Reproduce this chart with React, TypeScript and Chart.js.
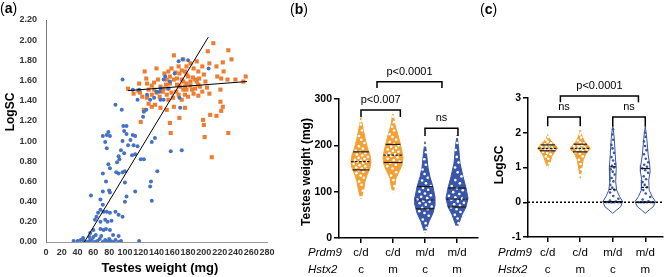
import React, { useEffect, useRef } from 'react';
import { Chart, registerables } from 'chart.js';
Chart.register(...registerables);

// ---------------- Panel (a) data: [testes weight (mg), LogSC] ----------------
const bluePoints: [number, number][] = [
  [35, 0.01], [40, 0.01], [44, 0.02], [48, 0.01], [52, 0.0], [55, 0.01], [58, 0.02], [62, 0.0], [65, 0.01], [68, 0.03],
  [72, 0.0], [75, 0.02], [78, 0.0], [82, 0.01], [85, 0.0], [88, 0.02], [92, 0.0], [95, 0.01], [118, 0.01], [60, 0.05],
  [70, 0.06], [80, 0.03], [57, 0.46], [97, 1.61], [88, 1.36], [96, 1.31], [110, 1.51], [116, 1.41], [118, 1.51], [123, 1.24],
  [124, 1.29], [127, 1.31], [128, 1.46], [132, 1.41], [137, 1.43], [140, 1.49], [145, 1.41], [149, 1.41], [145, 1.52], [149, 1.61],
  [168, 1.79], [173, 1.81], [180, 1.8], [206, 1.72], [170, 1.33], [169, 1.43], [158, 0.9], [172, 0.91], [141, 0.7], [134, 0.99],
  [138, 1.03], [133, 0.6], [132, 0.55], [134, 0.41], [113, 0.5], [120, 0.82], [124, 0.82], [116, 0.95], [110, 1.06], [113, 1.05],
  [102, 1.15], [98, 1.15], [99, 1.1], [102, 1.07], [97, 1.0], [107, 1.01], [104, 0.96], [111, 0.96], [109, 0.86], [113, 0.87],
  [99, 0.88], [95, 0.91], [92, 0.85], [90, 0.79], [93, 0.82], [79, 0.77], [81, 0.73], [89, 0.69], [92, 0.68], [97, 0.69],
  [100, 0.7], [72, 1.05], [77, 1.06], [79, 1.09], [81, 1.05], [75, 0.99], [77, 0.93], [72, 0.68], [72, 0.5], [80, 0.51],
  [81, 0.49], [76, 0.6], [100, 0.59], [102, 0.45], [100, 0.4], [69, 0.42], [72, 0.37], [66, 0.29], [69, 0.32], [73, 0.3],
  [77, 0.3], [81, 0.29], [88, 0.3], [64, 0.25], [62, 0.22], [69, 0.2], [75, 0.22], [78, 0.2], [83, 0.21], [92, 0.27],
  [97, 0.25], [60, 0.12], [69, 0.13], [73, 0.12], [76, 0.13], [81, 0.12], [56, 0.09], [63, 0.07], [85, 0.07], [92, 0.06],
  [47, 0.04], [55, 0.05], [151, 1.64], [157, 1.59], [163, 1.67], [155, 1.52], [144, 1.49]
];
const orangePoints: [number, number][] = [
  [104, 1.52], [118, 1.57], [125, 1.69], [130, 1.51], [119, 1.48], [122, 1.44], [128, 1.43], [134, 1.46], [137, 1.51], [124, 1.31],
  [120, 1.19], [140, 1.72], [145, 1.54], [150, 1.67], [152, 1.56], [155, 1.52], [157, 1.57], [159, 1.48], [162, 1.85], [164, 1.68],
  [166, 1.62], [168, 1.74], [170, 1.54], [172, 1.61], [174, 1.81], [176, 1.69], [178, 1.57], [180, 1.64], [183, 1.77], [185, 1.51],
  [187, 1.72], [189, 1.61], [191, 1.79], [193, 1.69], [195, 1.54], [198, 1.74], [200, 1.66], [202, 1.59], [205, 1.89], [207, 1.77],
  [212, 1.97], [216, 1.74], [217, 1.64], [221, 1.51], [224, 1.78], [225, 1.69], [230, 1.61], [231, 1.9], [235, 1.81], [240, 1.61],
  [250, 1.59], [253, 1.64], [157, 1.18], [158, 1.08], [153, 1.31], [162, 1.34], [169, 1.23], [176, 1.33], [172, 1.41], [180, 1.44],
  [193, 1.45], [199, 1.21], [200, 1.16], [201, 1.04], [208, 1.26], [216, 1.25], [221, 1.39], [224, 1.34], [231, 1.08], [210, 0.84],
  [207, 1.47], [140, 1.48], [144, 1.44], [148, 1.49], [153, 1.46], [155, 1.41], [161, 1.43], [165, 1.49], [168, 1.46], [174, 1.51],
  [176, 1.46], [178, 1.51], [183, 1.55], [187, 1.47], [189, 1.52], [193, 1.56], [198, 1.49], [204, 1.53], [153, 1.61], [157, 1.64],
  [162, 1.61], [166, 1.56], [169, 1.67], [174, 1.59], [176, 1.54], [178, 1.66], [183, 1.59], [186, 1.63], [191, 1.59], [194, 1.62],
  [178, 1.74], [172, 1.7], [159, 1.72], [155, 1.69], [149, 1.52], [128, 1.57], [134, 1.55], [137, 1.58], [142, 1.61], [127, 1.62],
  [117, 1.5], [111, 1.47], [130, 1.37], [134, 1.34], [138, 1.36], [145, 1.33], [222, 1.62], [222, 1.3]
];
const fitAllX = [48.6, 205.6];
const fitAllY = [0, 2.03];
const fitOrangeX = [103.6, 254.6];
const fitOrangeY = [1.5, 1.59];

// ---------------- Panels (b) and (c) data ----------------
const prdm9 = ['c/d', 'c/d', 'm/d', 'm/d'];
const hstx2 = ['c', 'm', 'c', 'm'];

// violin outlines: value levels and relative density (0..1) at each level
const weightLevels = [
  [84, 95, 108, 121, 136, 151, 164, 179, 194, 216, 237, 250, 260],
  [97, 114, 129, 143, 158, 173, 186, 205, 222, 244, 272],
  [11, 22, 35, 54, 71, 88, 110, 132, 153, 183, 208],
  [22, 32, 50, 67, 86, 108, 132, 162, 197, 222]
];
const weightDensity = [
  [0, 0.14, 0.27, 0.36, 0.55, 0.82, 0.91, 0.82, 0.59, 0.36, 0.18, 0.09, 0],
  [0, 0.18, 0.27, 0.55, 0.82, 0.91, 0.82, 0.64, 0.45, 0.18, 0],
  [0, 0.18, 0.36, 0.73, 0.91, 0.91, 0.73, 0.45, 0.27, 0.14, 0],
  [0, 0.18, 0.45, 0.82, 1, 0.82, 0.55, 0.27, 0.14, 0]
];
const weightQuartiles = [
  [147, 165, 186],
  [163, 179, 202],
  [63, 82, 111],
  [67, 84, 108]
];
const weightValues = [
  [88, 102, 115, 122, 130, 135, 140, 143, 146, 148, 150, 152, 155, 157, 160, 162, 164, 165, 167, 169, 171, 173, 175, 178, 180, 183, 186, 189, 193, 198, 205, 212, 220, 232, 245, 252],
  [100, 112, 125, 135, 142, 150, 155, 158, 162, 165, 168, 171, 174, 177, 179, 181, 183, 186, 188, 191, 194, 197, 200, 203, 207, 212, 218, 224, 232, 240, 250, 262, 270],
  [14, 22, 32, 40, 48, 54, 58, 62, 65, 68, 72, 75, 78, 80, 83, 86, 89, 92, 96, 100, 104, 108, 112, 118, 124, 130, 138, 148, 158, 170, 185, 200],
  [24, 32, 42, 50, 56, 62, 66, 70, 73, 76, 79, 82, 85, 88, 91, 95, 99, 103, 107, 112, 118, 125, 133, 142, 152, 163, 175, 190, 205, 218]
];

const logLevels = [
  [0.98, 1.17, 1.31, 1.45, 1.55, 1.63, 1.74, 1.84, 1.95],
  [0.69, 0.98, 1.22, 1.41, 1.53, 1.6, 1.74, 1.89, 2.08],
  [-0.32, -0.22, -0.13, 0.02, 0.16, 0.35, 0.59, 0.98, 1.36, 1.84, 2.22],
  [-0.32, -0.22, -0.13, 0.02, 0.16, 0.35, 0.64, 0.88, 1.07, 1.36, 1.84, 2.19]
];
const logDensity = [
  [0, 0.23, 0.36, 0.64, 0.91, 0.73, 0.36, 0.14, 0],
  [0, 0.14, 0.27, 0.55, 0.91, 0.82, 0.41, 0.18, 0],
  [0, 0.36, 0.73, 0.91, 0.64, 0.36, 0.27, 0.32, 0.23, 0.14, 0],
  [0, 0.36, 0.73, 0.95, 0.64, 0.36, 0.32, 0.45, 0.41, 0.27, 0.14, 0]
];
const logQuartiles = [
  [1.48, 1.55, 1.65],
  [1.45, 1.55, 1.67],
  [0.02, 0.37, 1.02],
  [0.0, 0.43, 0.97]
];
const logValues = [
  [1.02, 1.12, 1.25, 1.32, 1.38, 1.42, 1.45, 1.48, 1.5, 1.52, 1.54, 1.56, 1.58, 1.6, 1.62, 1.64, 1.67, 1.7, 1.74, 1.8, 1.88],
  [0.78, 0.95, 1.1, 1.22, 1.32, 1.4, 1.44, 1.47, 1.5, 1.52, 1.54, 1.56, 1.58, 1.6, 1.62, 1.64, 1.66, 1.69, 1.72, 1.78, 1.86, 1.95, 2.0],
  [0, 0, 0, 0, 0, 0, 0, 0.02, 0.05, 0.1, 0.18, 0.28, 0.35, 0.42, 0.5, 0.6, 0.7, 0.8, 0.88, 0.95, 1.0, 1.05, 1.1, 1.2, 1.3, 1.42, 1.55, 1.65, 1.8, 1.95, 2.1],
  [0, 0, 0, 0, 0, 0, 0, 0.03, 0.08, 0.15, 0.25, 0.35, 0.43, 0.5, 0.58, 0.66, 0.75, 0.85, 0.92, 0.98, 1.02, 1.08, 1.15, 1.25, 1.38, 1.5, 1.62, 1.75, 1.88, 2.0]
];

// comparison brackets: [x from, x to, bar value, drop value, label]
const weightBrackets: [number, number, number, number, string][] = [
  [1.5, 3.53, 337, 324, 'p<0.0001'],
  [1.0, 2.23, 276, 261, 'p<0.007'],
  [3.0, 4.03, 237, 220, 'ns']
];
const logBrackets: [number, number, number, number, string][] = [
  [1.39, 3.79, 3.06, 2.88, 'p<0.0001'],
  [1.0, 2.0, 2.45, 2.19, 'ns'],
  [3.0, 4.0, 2.45, 2.19, 'ns']
];

// ---------------- styles ----------------
const W = 667;
const H = 277;
const SANS = "'Liberation Sans', Arial, sans-serif";
const NARROW = "'Liberation Sans Narrow', 'Liberation Sans', Arial, sans-serif";
const ORANGE = '#F3A034';
const BLUE = '#3A56A8';
const XL_BLUE = '#4472C4';
const XL_ORANGE = '#ED7D31';

function interp(xs: number[], ys: number[], v: number) {
  if (v <= xs[0]) return ys[0];
  for (let i = 1; i < xs.length; i++) {
    if (v <= xs[i]) {
      const t = (v - xs[i - 1]) / (xs[i] - xs[i - 1]);
      return ys[i - 1] + t * (ys[i] - ys[i - 1]);
    }
  }
  return ys[ys.length - 1];
}
const jit = (i: number) => ((i * 0.618034 + 0.37) % 1) * 2 - 1;

function drawLetter(ctx: CanvasRenderingContext2D, letter: string, x: number, y: number) {
  ctx.textAlign = 'left';
  ctx.textBaseline = 'alphabetic';
  ctx.fillStyle = '#000';
  ctx.font = `14px ${SANS}`;
  ctx.fillText('(', x, y);
  let cx = x + ctx.measureText('(').width;
  ctx.font = `bold 14px ${SANS}`;
  ctx.fillText(letter, cx, y);
  cx += ctx.measureText(letter).width;
  ctx.font = `14px ${SANS}`;
  ctx.fillText(')', cx, y);
}
function drawRotated(ctx: CanvasRenderingContext2D, s: string, x: number, y: number, font: string) {
  ctx.save();
  ctx.translate(x, y);
  ctx.rotate(-Math.PI / 2);
  ctx.font = font;
  ctx.textAlign = 'center';
  ctx.textBaseline = 'middle';
  ctx.fillStyle = '#000';
  ctx.fillText(s, 0, 0);
  ctx.restore();
}

function violinDatasets(levelsArr: number[][], densArr: number[][], quartArr: number[][], valsArr: number[][],
  half: number, filled: boolean[], edge: string[], dotColor: string[], qColor: string) {
  const ds: any[] = [];
  levelsArr.forEach((levels, k) => {
    const pos = k + 1;
    const dens = densArr[k];
    const right = levels.map((y, i) => ({ x: pos + dens[i] * half, y }));
    const left = levels.map((y, i) => ({ x: pos - dens[i] * half, y })).reverse();
    const poly = [...right, ...left, right[0]];
    ds.push({
      data: poly, showLine: true, fill: filled[k] ? 'shape' : false,
      backgroundColor: filled[k] ? edge[k] : 'rgba(0,0,0,0)', borderColor: edge[k], borderWidth: 1,
      pointRadius: 0, tension: 0, order: 5
    });
    const w = (v: number) => interp(levels, dens, v) * half;
    ds.push({
      data: valsArr[k].map((v, i) => ({ x: pos + w(v) * 0.8 * jit(i), y: v })),
      showLine: false, pointRadius: 1.3, pointBackgroundColor: dotColor[k], pointBorderWidth: 0, order: 4
    });
    quartArr[k].forEach((q, j) => {
      ds.push({
        data: [{ x: pos - w(q), y: q }, { x: pos + w(q), y: q }], showLine: true,
        borderColor: qColor, borderWidth: 1.2, borderDash: j === 1 ? [2.5, 1.5] : [], pointRadius: 0, fill: false, order: 3
      });
    });
  });
  return ds;
}

function bracketDraw(ctx: CanvasRenderingContext2D, x: any, y: any, list: [number, number, number, number, string][]) {
  ctx.strokeStyle = '#000';
  ctx.lineWidth = 1.5;
  ctx.fillStyle = '#000';
  ctx.font = `11px ${SANS}`;
  ctx.textAlign = 'center';
  ctx.textBaseline = 'middle';
  list.forEach(([a, b, v, d, label]) => {
    const x1 = x.getPixelForValue(a), x2 = x.getPixelForValue(b);
    const yb = y.getPixelForValue(v), yd = y.getPixelForValue(d);
    ctx.beginPath();
    ctx.moveTo(x1, yd); ctx.lineTo(x1, yb); ctx.lineTo(x2, yb); ctx.lineTo(x2, yd);
    ctx.stroke();
    ctx.fillText(label, (x1 + x2) / 2, yb - 10);
  });
}

function categoryDraw(ctx: CanvasRenderingContext2D, x: any, rowLeft: number) {
  ctx.fillStyle = '#000';
  ctx.textBaseline = 'middle';
  ctx.font = `italic 11.5px ${SANS}`;
  ctx.textAlign = 'left';
  ctx.fillText('Prdm9', rowLeft, 253);
  ctx.fillText('Hstx2', rowLeft, 270);
  ctx.font = `11.5px ${SANS}`;
  ctx.textAlign = 'center';
  prdm9.forEach((s, i) => {
    const px = x.getPixelForValue(i + 1);
    ctx.fillText(s, px, 253);
    ctx.fillText(hstx2[i], px, 270);
  });
}

function configA(): any {
  return {
    type: 'scatter',
    data: {
      datasets: [
        { data: fitAllX.map((v, i) => ({ x: v, y: fitAllY[i] })), showLine: true, borderColor: '#000', borderWidth: 1, pointRadius: 0 },
        { data: fitOrangeX.map((v, i) => ({ x: v, y: fitOrangeY[i] })), showLine: true, borderColor: '#000', borderWidth: 1, pointRadius: 0 },
        { data: bluePoints.map(([x, y]) => ({ x, y })), pointStyle: 'circle', pointRadius: 2, backgroundColor: XL_BLUE, borderWidth: 0 },
        { data: orangePoints.map(([x, y]) => ({ x, y })), pointStyle: 'rect', pointRadius: 2.9, backgroundColor: XL_ORANGE, borderWidth: 0 }
      ]
    },
    options: {
      responsive: false, animation: false, devicePixelRatio: 1, events: [],
      layout: { padding: { left: 0, top: 20, right: W - 267, bottom: 0 } },
      plugins: { legend: { display: false }, tooltip: { enabled: false } },
      scales: {
        x: {
          type: 'linear', min: 0, max: 280,
          ticks: { stepSize: 20, autoSkip: false, maxRotation: 0, padding: 5, color: '#333', font: { family: NARROW, size: 9, weight: 'bold' } },
          grid: { display: false, drawTicks: false },
          border: { color: '#9a9a9a', width: 1 },
          afterFit: (s: any) => { s.height = H - 242; }
        },
        y: {
          type: 'linear', min: 0, max: 2.2,
          ticks: { stepSize: 0.2, padding: 9, color: '#333', font: { family: NARROW, size: 9, weight: 'bold' }, callback: (v: number) => v.toFixed(2) },
          grid: { display: false, drawTicks: false },
          border: { color: '#7a7a7a', width: 1 },
          afterFit: (s: any) => { s.width = 46; }
        }
      }
    },
    plugins: [{
      id: 'panelA',
      afterDraw(chart: any) {
        const ctx = chart.ctx;
        ctx.save();
        drawLetter(ctx, 'a', 0, 13);
        drawRotated(ctx, 'LogSC', 11, 112, `bold 12px ${NARROW}`);
        ctx.font = `bold 13px ${NARROW}`;
        ctx.textAlign = 'center';
        ctx.textBaseline = 'middle';
        ctx.fillStyle = '#000';
        ctx.fillText('Testes weight (mg)', 160, 268);
        ctx.restore();
      }
    }]
  };
}

function violinOptions(xmin: number, xmax: number, ymin: number, ymax: number, step: number,
  pad: any, yWidth: number, xHeight: number): any {
  return {
    responsive: false, animation: false, devicePixelRatio: 1, events: [],
    layout: { padding: pad },
    plugins: { legend: { display: false }, tooltip: { enabled: false } },
    scales: {
      x: {
        type: 'linear', min: xmin, max: xmax,
        afterBuildTicks: (s: any) => { s.ticks = [1, 2, 3, 4].map((v) => ({ value: v })); },
        ticks: { display: false },
        grid: { display: true, drawOnChartArea: false, drawTicks: true, tickLength: 5, color: '#000', lineWidth: 1.5 },
        border: { color: '#000', width: 1.5 },
        afterFit: (s: any) => { s.height = xHeight; }
      },
      y: {
        type: 'linear', min: ymin, max: ymax,
        ticks: { stepSize: step, padding: 2, color: '#000', font: { family: NARROW, size: 10.5, weight: 'bold' } },
        grid: { display: true, drawOnChartArea: false, drawTicks: true, tickLength: 5, color: '#000', lineWidth: 1.5 },
        border: { color: '#000', width: 1.5 },
        afterFit: (s: any) => { s.width = yWidth; }
      }
    }
  };
}

function configB(): any {
  return {
    type: 'line',
    data: {
      datasets: violinDatasets(weightLevels, weightDensity, weightQuartiles, weightValues, 0.344,
        [true, true, true, true], [ORANGE, ORANGE, BLUE, BLUE], ['#fff', '#fff', '#fff', '#fff'], '#1a1a1a')
    },
    options: violinOptions(0.3125, 4.656, 0, 300, 100, { left: 290, top: 99, right: W - 478, bottom: 0 }, 49, H - 238),
    plugins: [{
      id: 'panelB',
      afterDraw(chart: any) {
        const { ctx, scales } = chart;
        ctx.save();
        drawLetter(ctx, 'b', 290, 14);
        drawRotated(ctx, 'Testes weight (mg)', 307, 172, `bold 12px ${SANS}`);
        categoryDraw(ctx, scales.x, 308);
        bracketDraw(ctx, scales.x, scales.y, weightBrackets);
        ctx.restore();
      }
    }]
  };
}

function configC(): any {
  const ds = violinDatasets(logLevels, logDensity, logQuartiles, logValues, 0.333,
    [true, true, false, false], [ORANGE, ORANGE, BLUE, BLUE], ['#fff', '#fff', BLUE, BLUE], '#1a1a1a');
  ds.push({
    data: [{ x: 0.394, y: 0 }, { x: 4.545, y: 0 }], showLine: true, borderColor: '#000', borderWidth: 1.3,
    borderDash: [2, 2], pointRadius: 0, fill: false, order: 1
  });
  return {
    type: 'line',
    data: { datasets: ds },
    options: violinOptions(0.394, 4.545, -1, 3, 1, { left: 480, top: 98, right: W - 665, bottom: 0 }, 48, H - 237),
    plugins: [{
      id: 'panelC',
      afterDraw(chart: any) {
        const { ctx, scales } = chart;
        ctx.save();
        drawLetter(ctx, 'c', 480, 14);
        drawRotated(ctx, 'LogSC', 500, 165, `bold 12px ${SANS}`);
        categoryDraw(ctx, scales.x, 498);
        bracketDraw(ctx, scales.x, scales.y, logBrackets);
        ctx.restore();
      }
    }]
  };
}

export default function App() {
  const refA = useRef<HTMLCanvasElement>(null);
  const refB = useRef<HTMLCanvasElement>(null);
  const refC = useRef<HTMLCanvasElement>(null);
  useEffect(() => {
    const charts = [
      new Chart(refA.current as HTMLCanvasElement, configA()),
      new Chart(refB.current as HTMLCanvasElement, configB()),
      new Chart(refC.current as HTMLCanvasElement, configC())
    ];
    return () => charts.forEach((c) => c.destroy());
  }, []);
  const cs: React.CSSProperties = { position: 'absolute', left: 0, top: 0, width: W, height: H };
  return (
    <div style={{ position: 'absolute', left: 0, top: 0, width: W, height: H, background: '#fff', overflow: 'hidden' }}>
      <canvas ref={refA} width={W} height={H} style={cs} />
      <canvas ref={refB} width={W} height={H} style={cs} />
      <canvas ref={refC} width={W} height={H} style={cs} />
    </div>
  );
}
